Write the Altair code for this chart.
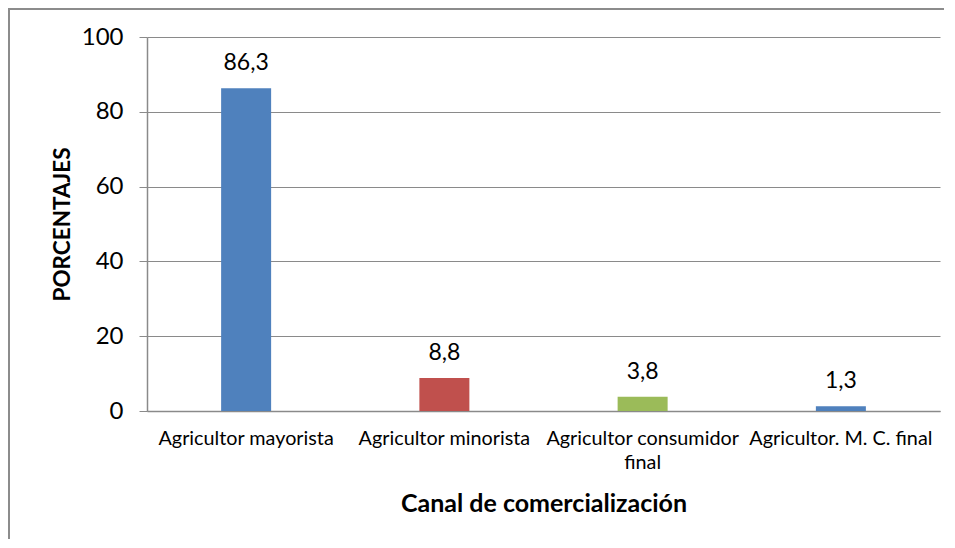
import altair as alt
import pandas as pd

categories = ["Agricultor mayorista", "Agricultor minorista", "Agricultor consumidor final", "Agricultor. M. C. final"]
values = [86.3, 8.8, 3.8, 1.3]
value_labels = ["86,3", "8,8", "3,8", "1,3"]
colors = ["#4F81BD", "#C0504D", "#9BBB59", "#4F81BD"]
y_ticks = [0, 20, 40, 60, 80, 100]

df = pd.DataFrame({"canal": categories, "pct": values, "lbl": value_labels})

W, H = 793, 374
FONT = "Lato"
GRID = "#8a8a8a"

x_enc = alt.X(
    "canal:N",
    sort=categories,
    scale=alt.Scale(paddingInner=0, paddingOuter=0),
    axis=alt.Axis(
        title="Canal de comercialización",
        titleFontSize=25,
        titleFontWeight="bold",
        titleFont=FONT,
        titleColor="#000000",
        titleY=92,
        titleBaseline="middle",
        labelAngle=0,
        labelFontSize=19.8,
        labelFont=FONT,
        labelColor="#000000",
        labelPadding=17,
        labelLineHeight=24,
        labelLimit=0,
        labelExpr="datum.label == 'Agricultor consumidor final' ? ['Agricultor consumidor', 'final'] : datum.label",
        ticks=False,
        tickSize=0,
        domainColor=GRID,
        domainWidth=1.5,
        grid=False,
    ),
)

y_enc = alt.Y(
    "pct:Q",
    scale=alt.Scale(domain=[0, 100], nice=False),
    axis=alt.Axis(
        title="PORCENTAJES",
        titleFontSize=22.5,
        titleFontWeight="bold",
        titleFont=FONT,
        titleColor="#000000",
        titleAngle=270,
        titleX=-85,
        titleY=H / 2,
        titleAlign="center",
        titleBaseline="middle",
        values=y_ticks,
        labelFontSize=24,
        labelFont=FONT,
        labelColor="#000000",
        labelPadding=16,
        tickSize=8,
        tickColor=GRID,
        domainColor=GRID,
        domainWidth=1.5,
        grid=True,
        gridColor=GRID,
        gridWidth=1.2,
    ),
)

bars = alt.Chart(df).mark_bar(size=50).encode(
    x=x_enc,
    y=y_enc,
    color=alt.Color("canal:N", scale=alt.Scale(domain=categories, range=colors), legend=None),
)

text = alt.Chart(df).mark_text(
    baseline="alphabetic", dy=-18, fontSize=23, font=FONT, color="#000000"
).encode(
    x=alt.X("canal:N", sort=categories),
    y="pct:Q",
    text="lbl:N",
)

border_data = alt.Data(values=[{"k": 1}])
left_border = alt.Chart(border_data).mark_rule(color="#8c8c8c", strokeWidth=2).encode(
    x=alt.value(-138), y=alt.value(-29), y2=alt.value(H + 128)
)
top_border = alt.Chart(border_data).mark_rule(color="#8c8c8c", strokeWidth=2).encode(
    x=alt.value(-139), x2=alt.value(W + 4), y=alt.value(-28)
)

chart = alt.layer(bars, text, left_border, top_border).properties(
    width=W,
    height=H,
    autosize=alt.AutoSizeParams(type="none"),
    padding={"left": 139, "top": 29, "right": 4, "bottom": 128},
).configure_view(stroke=None)

chart.save("out.html", embed_options={"renderer": "svg", "actions": False})
